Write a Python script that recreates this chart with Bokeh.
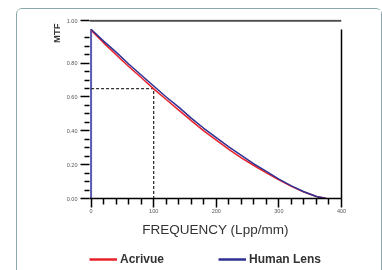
from bokeh.plotting import figure
from bokeh.layouts import column
from bokeh.models import (LinearAxis, FixedTicker, Range1d, Span, Legend, LegendItem,
                          Title, NumeralTickFormatter)
from bokeh.embed import file_html
from bokeh.resources import INLINE

# ---- data ----
freq = [0, 20, 40, 60, 80, 100, 120, 140, 160, 180, 200, 220, 240, 260, 280, 300, 320, 340, 360, 375]
human_lens = [1.0, 0.93, 0.865, 0.795, 0.73, 0.665, 0.60, 0.54, 0.475, 0.415, 0.36, 0.305,
              0.255, 0.205, 0.16, 0.115, 0.075, 0.04, 0.012, 0.0]
acrivue = [0.995, 0.92, 0.85, 0.78, 0.715, 0.648, 0.585, 0.522, 0.46, 0.40, 0.345, 0.29,
           0.24, 0.195, 0.152, 0.11, 0.072, 0.038, 0.012, 0.002]
series_names = ["Acrivue", "Human Lens"]
series_values = [acrivue, human_lens]
series_colors = ["#e8202a", "#2e3192"]
x_ticks = [0, 100, 200, 300, 400]
x_minor = [20, 40, 60, 80, 120, 140, 160, 180, 220, 240, 260, 280, 320, 340, 360, 380]
y_ticks = [0.0, 0.2, 0.4, 0.6, 0.8]
y_minor = [0.05, 0.1, 0.15, 0.25, 0.3, 0.35, 0.45, 0.5, 0.55, 0.65, 0.7, 0.75, 0.85, 0.9, 0.95]
top_line_value = 1.05
top_line_label = "1.00"
ref_freq = 100
ref_mtf = 0.65

FONT = "Liberation Sans"

p = figure(frame_width=250, frame_height=178, output_backend="svg", toolbar_location=None,
           x_range=Range1d(-2.5, 400), y_range=Range1d(0, 1.058),
           min_border_left=72, min_border_right=42, min_border_top=10, min_border_bottom=73,
           background_fill_color="white", border_fill_color="white", outline_line_color=None)
p.styles = {"position": "fixed", "left": "16px", "top": "8px",
            "border": "1px solid #8aa9ad", "border-bottom": "none",
            "border-radius": "6px 6px 0 0"}
p.grid.visible = False

# x axis
xa = p.xaxis[0]
xa.ticker = FixedTicker(ticks=x_ticks, minor_ticks=x_minor)
xa.axis_line_color = "black"
xa.axis_line_width = 1.5
xa.major_tick_line_color = "black"
xa.major_tick_line_width = 1.5
xa.major_tick_out = 9
xa.major_tick_in = 0
xa.minor_tick_line_color = "black"
xa.minor_tick_line_width = 1.5
xa.minor_tick_out = 6
xa.minor_tick_in = 0
xa.major_label_text_font = FONT
xa.major_label_text_font_size = "5.5px"
xa.major_label_text_color = "#555555"
xa.major_label_standoff = 1
xa.axis_label = "FREQUENCY (Lpp/mm)"
xa.axis_label_text_font = FONT
xa.axis_label_text_font_size = "13.5px"
xa.axis_label_text_font_style = "normal"
xa.axis_label_text_color = "#333333"
xa.axis_label_standoff = 6

# y axis
ya = p.yaxis[0]
ya.ticker = FixedTicker(ticks=y_ticks + [top_line_value], minor_ticks=y_minor)
ya.formatter = NumeralTickFormatter(format="0.00")
ya.major_label_overrides = {top_line_value: top_line_label}
ya.axis_line_color = None
ya.major_tick_line_color = "black"
ya.major_tick_line_width = 1.5
ya.major_tick_out = 9
ya.major_tick_in = 0
ya.minor_tick_line_color = "black"
ya.minor_tick_line_width = 1.5
ya.minor_tick_out = 5
ya.minor_tick_in = 0
ya.major_label_text_font = FONT
ya.major_label_text_font_size = "5.5px"
ya.major_label_text_color = "#555555"
ya.major_label_standoff = 3

p.add_layout(Title(text="MTF", align="right", standoff=3, offset=4, text_font=FONT,
                   text_font_size="9.5px", text_font_style="bold", text_color="#333333"), "left")

# right border line
ra = LinearAxis(bounds=(0, 1.0), axis_line_color="black", axis_line_width=1.5,
                major_tick_line_color=None, minor_tick_line_color=None,
                major_label_text_color=None, major_label_text_font_size="1px")
p.add_layout(ra, "right")

# top line
p.add_layout(Span(location=top_line_value, dimension="width", line_color="#4d4d4d", line_width=2))

# blue y-axis line
p.segment(x0=[0], y0=[0], x1=[0], y1=[1.0], line_color="#5a5ab0", line_width=2)

# reference dashed lines
p.line(x=[0, ref_freq, ref_freq], y=[ref_mtf, ref_mtf, 0], line_color="#333333",
       line_width=1.3, line_dash="3 2")

for vals, color in zip(series_values, series_colors):
    p.line(freq, vals, line_color=color, line_width=1.5)

# ---- legend strip (separate small figure placed under the chart) ----
# Its ranges lie outside the data, so only the legend shows.
lg = figure(width=364, height=24, output_backend="svg", toolbar_location=None,
            x_range=Range1d(-2000, -1999), y_range=Range1d(-2000, -1999),
            x_axis_location=None, y_axis_location=None,
            min_border_left=0, min_border_right=0, min_border_top=0, min_border_bottom=0,
            background_fill_alpha=0, border_fill_alpha=0, outline_line_color=None)
lg.styles = {"position": "fixed", "left": "17px", "top": "246px"}
lg.grid.visible = False
items = []
for name, vals, color in zip(series_names, series_values, series_colors):
    r = lg.line(freq, vals, line_color=color, line_width=2.5)
    items.append(LegendItem(label=name, renderers=[r]))
legend = Legend(items=items, orientation="horizontal", location=(0, 4),
                glyph_width=28, glyph_height=10, label_standoff=3, spacing=54,
                padding=0, margin=0, border_line_color=None, background_fill_alpha=0,
                label_text_font=FONT, label_text_font_style="bold",
                label_text_font_size="12px", label_text_color="#333333")
lg.add_layout(legend)

open("out.html", "w").write(file_html(column(p, lg), INLINE))
